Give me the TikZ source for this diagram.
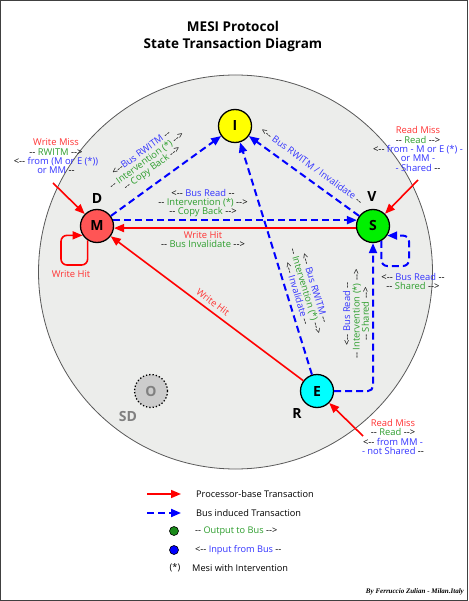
\documentclass[tikz,border=0pt]{standalone}
\usepackage{fontspec}
\setmainfont{Open Sans}
\newfontfamily\credfont{Liberation Serif}
\usetikzlibrary{arrows.meta,calc}
\definecolor{pred}{HTML}{FF0000}
\definecolor{bblue}{HTML}{0000FF}
\definecolor{tred}{HTML}{FF3333}
\definecolor{tgreen}{HTML}{2E9E2E}
\definecolor{tblue}{HTML}{3333FF}
\definecolor{bgc}{HTML}{ECEDEB}
\definecolor{mfill}{HTML}{FF5555}
\definecolor{ifill}{HTML}{FFFF00}
\definecolor{sfill}{HTML}{00F000}
\definecolor{efill}{HTML}{00FFFF}
\definecolor{dotgreen}{HTML}{1A8A1A}
\begin{document}
\begin{tikzpicture}[x=1pt,y=-1pt,
 state/.style={circle,draw=black,line width=1.3pt,minimum size=33pt,inner sep=0pt,font=\bfseries\fontsize{14}{14}\selectfont},
 tag/.style={font=\bfseries\fontsize{14}{14}\selectfont,inner sep=0pt},
 proc/.style={draw=pred,line width=1.6pt,-{Triangle[length=10pt,width=8pt]}},
 bus/.style={draw=bblue,line width=2pt,dash pattern=on 7pt off 4pt,-{Triangle[length=10pt,width=8pt]}},
 lab/.style={font=\fontsize{9.4}{9.3}\selectfont,align=center,inner sep=0pt},
 leg/.style={font=\fontsize{9.2}{10}\selectfont,inner sep=0pt,anchor=west},
 dot/.style={circle,draw=black,line width=0.6pt,minimum size=9pt,inner sep=0pt}
]
\useasboundingbox (0,0) rectangle (468,601);
\draw[line width=1.3pt,draw=black!75,fill=white] (0.65,0.65) rectangle (467.35,600.35);
\node[font=\bfseries\fontsize{13.5}{17}\selectfont,align=center] (title) at (233,36.5) {MESI Protocol\\State Transaction Diagram};
\draw[draw=black!65,line width=0.8pt,fill=bgc] (235.5,272) circle[radius=197];

% states
\node[state,fill=ifill] (I) at (235,126) {I};
\node[state,fill=mfill] (M) at (97,226) {M};
\node[state,fill=sfill] (S) at (373,226) {S};
\node[state,fill=efill] (E) at (317,391) {E};
\node[state,draw=black,dotted,fill=black!20,text=black!50] (O) at (151,391) {O};
\node[tag] (tD) at (97,199) {D};
\node[tag] (tV) at (372,197) {V};
\node[tag] (tR) at (297,413) {R};
\node[tag,text=black!50] (tSD) at (128,416) {SD};

% bus transactions
\draw[bus] (M) -- (I);
\draw[bus] (S) -- (I);
\draw[bus] (E) -- (I);
\draw[bus] (M.20) -- (S.160);
\draw[bus,rounded corners=5pt] (E) -- (E -| S) -- (S);
\draw[bus,rounded corners=6pt] (S.-61) |- (409,266) |- (S.-34);

% processor transactions
\draw[proc] (S.187) -- (M.-7);
\draw[proc] (E) -- (M);
\draw[proc,rounded corners=6pt] (M.237) |- (61,265) |- (M.213);
\coordinate (wm) at (53,183);
\coordinate (rms) at (418,180);
\coordinate (rme) at (363,436);
\draw[proc] (wm) -- (M);
\draw[proc] (rms) -- (S);
\draw[proc] (rme) -- (E);

% labels
\node[lab,rotate=36] (lMI) at (147,161) {<-{}-\textcolor{tblue}{Bus RWITM} -{}-\\ -{}- \textcolor{tgreen}{Intervention (*)} -{}->\\ -{}- \textcolor{tgreen}{Copy Back} -{}->};
\node[lab,rotate=-36] (lSI) at (312,166) {<-{}- \textcolor{tblue}{Bus RWITM / Invalidate} -{}-};
\node[lab] (lMS) at (203,203) {<-{}- \textcolor{tblue}{Bus Read} -{}-\\ -{}- \textcolor{tgreen}{Intervention (*)} -{}->\\ -{}- \textcolor{tgreen}{Copy Back} -{}->};
\node[lab] (lSM) at (203,239.5) {\textcolor{tred}{Write Hit}\\ -{}- \textcolor{tgreen}{Bus Invalidate} -{}->};
\node[lab,rotate=-37,text=tred] (lEM) at (213,302) {Write Hit};
\node[lab,rotate=-73] (lEI) at (306,291) {<-{}- \textcolor{tblue}{Bus RWITM} -{}-\\ -{}- \textcolor{tgreen}{Intervention (*)} -{}->\\ <-{}- \textcolor{tblue}{Invalidate} -{}-};
\node[lab,rotate=90] (lES) at (356,314) {<-{}- \textcolor{tblue}{Bus Read} -{}-\\ -{}- \textcolor{tgreen}{Intervention (*)} -{}->\\ -{}- \textcolor{tgreen}{Shared} -{}->};
\node[lab] (lSS) at (413,281.5) {<-{}- \textcolor{tblue}{Bus Read} -{}-\\ -{}- \textcolor{tgreen}{Shared} -{}->};
\node[lab,text=tred] (lMM) at (71,274) {Write Hit};
\node[lab] (lWM) at (56,156.5) {\textcolor{tred}{Write Miss}\\ -{}- \textcolor{tgreen}{RWITM} -{}->\\ <-{}- \textcolor{tblue}{from (M or E (*))}\\ \textcolor{tblue}{or MM} -{}-};
\node[lab] (lRS) at (418,149) {\textcolor{tred}{Read Miss}\\ -{}- \textcolor{tgreen}{Read} -{}->\\ <-{}- \textcolor{tblue}{from - M or E (*) -}\\ \textcolor{tblue}{or MM -}\\ \textcolor{tblue}{- Shared} -{}-};
\node[lab] (lRE) at (393,437) {\textcolor{tred}{Read Miss}\\ -{}- \textcolor{tgreen}{Read} -{}->\\ <-{}- \textcolor{tblue}{from MM -}\\ \textcolor{tblue}{- not Shared} -{}-};

% legend
\coordinate (la1) at (147,494);
\coordinate (la2) at (181,494);
\coordinate (lb1) at (147,513);
\coordinate (lb2) at (181,513);
\draw[proc] (la1) -- (la2);
\draw[bus] (lb1) -- (lb2);
\node[leg] (t1) at (196,494) {Processor-base Transaction};
\node[leg] (t2) at (196,513) {Bus induced Transaction};
\node[dot,fill=dotgreen] (d1) at (174,531) {};
\node[leg] (t3) at (195,531) {-{}- \textcolor{tgreen}{Output to Bus} -{}->};
\node[dot,fill=bblue] (d2) at (174,550) {};
\node[leg] (t4) at (195,550) {<-{}- \textcolor{tblue}{Input from Bus} -{}-};
\node[font=\fontsize{9.2}{10}\selectfont,inner sep=0pt] (t5a) at (175,568) {(*)};
\node[leg] (t5) at (192,568) {Mesi with Intervention};
\node[anchor=east,inner sep=0pt,font=\credfont\bfseries\itshape\fontsize{7}{7}\selectfont] (cred) at (464,592) {By Ferruccio Zulian - Milan.Italy};
\end{tikzpicture}
\end{document}
